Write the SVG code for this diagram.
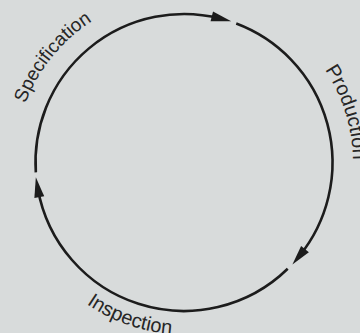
<svg xmlns="http://www.w3.org/2000/svg" xmlns:xlink="http://www.w3.org/1999/xlink" width="360" height="333" viewBox="0 0 360 333">
<style>
.arc{fill:none;stroke:#1c1c1c;stroke-width:2.6}
.lbl{font-family:"Liberation Sans",Arial,sans-serif;font-size:20px;fill:#262626}
</style>
<defs>
<marker id="ah" markerUnits="userSpaceOnUse" markerWidth="20" markerHeight="10" refX="9" refY="5" orient="auto" overflow="visible">
<path d="M0,0 L20,5 L0,10 Z" fill="#1c1c1c"/>
</marker>
<path id="pSpec" d="M25.5,103.5 A169,169 0 0 1 154.65,-3.43"/>
<path id="pProd" d="M324.93,69.73 A169,169 0 0 1 330.36,247.5"/>
<path id="pInsp" d="M86.5,304.0 A172,172 0 0 0 270,311.5"/>
</defs>
<rect width="360" height="333" fill="#d8dbdb"/>
<g id="connectors">
<path class="arc" d="M35.83,172.34 A148.5,148.5 0 0 1 220.53,18.56" marker-end="url(#ah)"/>
<path class="arc" d="M236.25,23.5 A148.5,148.5 0 0 1 299.33,256.05" marker-end="url(#ah)"/>
<path class="arc" d="M287.71,268.78 A148.5,148.5 0 0 1 37.74,188.19" marker-end="url(#ah)"/>
</g>
<g id="specification"><text class="lbl" style="font-size:19px"><textPath xlink:href="#pSpec">Specification</textPath></text></g>
<g id="production"><text class="lbl"><textPath xlink:href="#pProd">Production</textPath></text></g>
<g id="inspection"><text class="lbl"><textPath xlink:href="#pInsp">Inspection</textPath></text></g>
</svg>
